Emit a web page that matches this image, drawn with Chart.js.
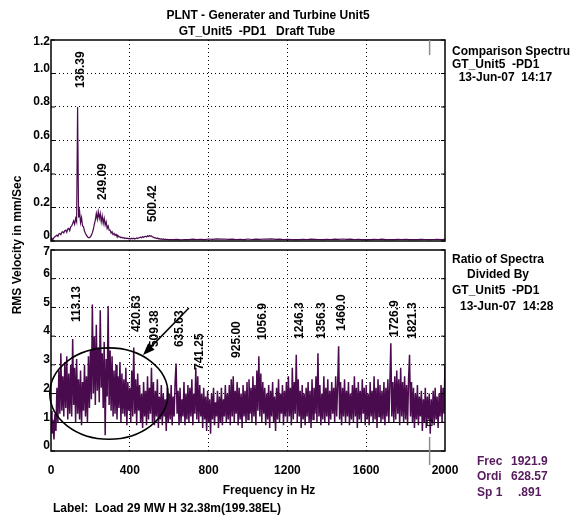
<!DOCTYPE html>
<html>
<head>
<meta charset="utf-8">
<script src="https://cdn.jsdelivr.net/npm/chart.js@4.4.0/dist/chart.umd.min.js"></script>
<style>
  body { margin: 0; background: #fff; }
  #wrap { position: relative; width: 575px; height: 518px; overflow: hidden; background: #fff;
          font-family: "Liberation Sans", Arial, sans-serif; font-weight: bold; font-size: 12px; color: #000; }
  canvas { position: absolute; left: 0; top: 0; }
  .t { position: absolute; white-space: pre; line-height: 14px; }
  .c { text-align: center; width: 300px; }
  .purple { color: #561b5c; }
</style>
</head>
<body>
<div id="wrap">
  <canvas id="spec_chart" width="575" height="518"></canvas>
  <canvas id="ratio_chart" width="575" height="518"></canvas>

  <div class="t c" style="left:118px; top:8px;">PLNT - Generater and Turbine Unit5</div>
  <div class="t c" style="left:107px; top:24px;">GT_Unit5  -PD1   Draft Tube</div>

  <div class="t" style="left:452px; top:44px;">Comparison Spectru</div>
  <div class="t" style="left:452px; top:57px;">GT_Unit5  -PD1</div>
  <div class="t" style="left:452px; top:70px;">  13-Jun-07  14:17</div>

  <div class="t" style="left:452px; top:252px;">Ratio of Spectra</div>
  <div class="t" style="left:467px; top:267px;">Divided By</div>
  <div class="t" style="left:452px; top:283px;">GT_Unit5  -PD1</div>
  <div class="t" style="left:460px; top:299px;">13-Jun-07  14:28</div>

  <div class="t" style="left:-63px; top:238px; width:160px; text-align:center; transform:rotate(-90deg);">RMS Velocity in mm/Sec</div>

  <div class="t c" style="left:119px; top:483px;">Frequency in Hz</div>
  <div class="t" style="left:53px; top:501px;">Label:  Load 29 MW H 32.38m(199.38EL)</div>

  <div class="t purple" style="left:477px; top:454px;">Frec</div>
  <div class="t purple" style="left:511px; top:454px;">1921.9</div>
  <div class="t purple" style="left:477px; top:469px;">Ordi</div>
  <div class="t purple" style="left:511px; top:469px;">628.57</div>
  <div class="t purple" style="left:477px; top:485px;">Sp 1</div>
  <div class="t purple" style="left:518px; top:485px;">.891</div>
</div>

<script>
// Tick values
const freqTicks = [0, 400, 800, 1200, 1600, 2000];
const specTicks = [0, 0.2, 0.4, 0.6, 0.8, 1.0, 1.2];
const specTickLabels = ['0', '0.2', '0.4', '0.6', '0.8', '1.0', '1.2'];
const ratioTicks = [0, 1, 2, 3, 4, 5, 6, 7];
const ratioTickLabels = ['0', '1', '2', '3', '4', '5', '6', '7'];

// Comparison spectrum (mm/Sec), 5 Hz lines up to 595 Hz, 20 Hz lines after
const specLow = [
    0.02, 0.005, 0.01, 0.02, 0.025, 0.03, 0.035, 0.028, 0.042, 0.045, 0.038, 0.052, 0.055, 0.048, 0.062, 0.065, 0.052, 0.072, 0.075, 0.062,
    0.085, 0.09, 0.105, 0.12, 0.1, 0.135, 0.115, 0.8, 0.14, 0.18, 0.11, 0.14, 0.09, 0.085, 0.06, 0.045, 0.035, 0.025, 0.02, 0.02,
    0.025, 0.035, 0.05, 0.07, 0.1, 0.125, 0.165, 0.13, 0.175, 0.135, 0.165, 0.115, 0.15, 0.105, 0.135, 0.095, 0.115, 0.075, 0.09, 0.065,
    0.065, 0.048, 0.055, 0.038, 0.045, 0.033, 0.04, 0.028, 0.032, 0.024, 0.026, 0.019, 0.022, 0.017, 0.02, 0.015, 0.018, 0.014, 0.017, 0.013,
    0.015, 0.012, 0.016, 0.013, 0.017, 0.012, 0.015, 0.018, 0.015, 0.019, 0.02, 0.023, 0.019, 0.026, 0.021, 0.027, 0.028, 0.024, 0.031, 0.027,
    0.033, 0.029, 0.03, 0.024, 0.023, 0.019, 0.019, 0.015, 0.018, 0.013, 0.014, 0.011, 0.013, 0.01, 0.012, 0.009, 0.011, 0.009, 0.01, 0.008
];
const specHigh = [
    0.009, 0.008, 0.01, 0.007, 0.009, 0.008, 0.011, 0.009, 0.01, 0.008,
    0.012, 0.01, 0.013, 0.011, 0.012, 0.01, 0.011, 0.009, 0.01, 0.008,
    0.012, 0.009, 0.011, 0.01, 0.012, 0.011, 0.013, 0.01, 0.011, 0.009,
    0.01, 0.008, 0.009, 0.008, 0.01, 0.009, 0.011, 0.01, 0.009, 0.008,
    0.01, 0.009, 0.011, 0.01, 0.012, 0.01, 0.011, 0.009, 0.01, 0.008,
    0.009, 0.008, 0.01, 0.009, 0.011, 0.008, 0.009, 0.008, 0.01, 0.009,
    0.01, 0.008, 0.009, 0.008, 0.01, 0.009, 0.008, 0.009, 0.01, 0.008,
    0.01
];

// Ratio of spectra, 5 Hz lines 0..2000 Hz
const ratioValues = [
    1.4, 0.6, 1.1, 0.4, 1.3, 0.7, 2.2, 1.0, 2.8, 1.3, 3.4, 1.4, 2.6, 1.2, 3.1, 1.5, 3.3, 1.1, 2.7, 1.3,
    3.0, 1.2, 3.9, 1.6, 2.9, 1.0, 3.2, 1.3, 2.5, 1.1, 2.8, 0.9, 2.4, 1.4, 3.0, 1.2, 2.6, 1.0, 3.3, 1.5,
    3.5, 1.8, 5.1, 2.0, 4.0, 1.6, 4.4, 2.1, 3.6, 1.7, 4.9, 2.2, 3.4, 1.5, 3.8, 0.55, 3.2, 1.9, 5.05, 1.6,
    3.5, 1.4, 3.3, 1.2, 2.8, 1.3, 3.0, 1.1, 2.6, 1.5, 3.1, 1.0, 2.7, 1.3, 2.5, 1.2, 2.9, 0.9, 2.4, 1.4,
    2.2, 1.0, 2.8, 1.2, 3.6, 1.3, 2.5, 0.9, 2.7, 1.4, 2.3, 1.0, 2.0, 0.8, 2.4, 1.2, 2.1, 0.9, 2.6, 1.1,
    2.2, 1.3, 2.9, 1.0, 2.4, 0.9, 2.1, 1.2, 2.5, 0.8, 1.9, 1.1, 2.3, 0.9, 2.0, 1.2, 1.8, 0.7, 2.2, 1.0,
    2.0, 1.1, 2.3, 0.9, 1.9, 1.2, 2.4, 3.05, 1.3, 2.1, 0.9, 2.2, 1.0, 1.8, 1.2, 2.4, 0.9, 2.0, 1.1, 2.3,
    1.0, 2.2, 1.2, 2.5, 0.9, 2.0, 1.3, 2.9, 1.1, 2.6, 1.0, 2.3, 1.2, 2.0, 0.8, 2.2, 1.1, 1.9, 0.7, 2.1,
    1.0, 1.8, 0.6, 2.0, 1.1, 2.2, 0.9, 1.7, 1.2, 2.1, 0.8, 1.9, 1.0, 2.2, 0.9, 1.8, 1.2, 2.3, 1.0, 2.0,
    1.1, 2.3, 0.9, 2.5, 1.2, 2.6, 1.0, 2.1, 1.3, 2.4, 0.9, 2.2, 1.1, 2.0, 0.8, 2.3, 1.2, 2.1, 1.0, 2.4,
    1.1, 2.5, 1.3, 2.2, 1.0, 2.6, 1.2, 2.3, 0.9, 2.8, 1.4, 3.3, 1.2, 2.7, 1.0, 2.4, 1.3, 2.2, 0.9, 2.0,
    1.1, 2.3, 0.8, 2.1, 1.2, 2.4, 1.0, 1.9, 0.7, 2.2, 1.1, 2.5, 1.0, 2.0, 1.3, 2.3, 0.9, 2.1, 1.2, 2.4,
    1.0, 2.6, 1.2, 2.2, 0.9, 2.9, 1.1, 2.4, 1.3, 3.35, 1.0, 2.5, 1.2, 2.1, 0.8, 2.3, 1.1, 2.0, 0.9, 2.2,
    1.2, 2.4, 1.0, 2.1, 0.8, 2.5, 1.1, 2.2, 1.3, 2.6, 1.0, 3.4, 1.2, 2.3, 0.9, 2.0, 1.1, 2.6, 1.0, 2.2,
    1.2, 2.5, 0.9, 2.1, 1.1, 2.4, 1.3, 2.2, 1.0, 2.6, 1.2, 2.3, 3.65, 1.1, 2.4, 0.9, 2.2, 1.2, 2.5, 1.0,
    2.1, 1.2, 2.4, 0.9, 2.0, 1.1, 2.3, 1.0, 2.6, 1.2, 2.2, 0.8, 2.4, 1.1, 2.1, 1.0, 2.5, 1.3, 2.2, 0.9,
    2.3, 1.1, 2.0, 0.9, 2.4, 1.2, 2.1, 1.0, 2.6, 1.1, 2.2, 0.8, 2.5, 1.2, 2.3, 1.0, 2.1, 1.1, 2.4, 0.9,
    2.2, 1.2, 2.5, 1.0, 2.3, 3.75, 1.2, 2.4, 1.0, 2.6, 1.1, 2.8, 1.3, 2.5, 0.9, 2.9, 1.2, 2.4, 1.0, 2.6,
    1.1, 2.3, 0.9, 2.5, 3.35, 1.2, 2.4, 1.0, 2.2, 0.8, 2.0, 1.1, 2.3, 0.9, 1.9, 1.2, 2.1, 0.7, 1.8, 1.0,
    2.2, 0.8, 1.9, 1.1, 2.0, 0.6, 1.8, 1.0, 2.1, 0.9, 2.2, 1.1, 1.9, 0.8, 2.0, 1.2, 2.3, 1.0, 2.2, 1.3,
    3.0
];

// Peak markers
const specPeakLabels = ['136.39', '249.09', '500.42'];
const specPeakLabelAt = [0.913, 0.245, 0.113];
const ratioPeakLabels = ['113.13', '420.63', '509.38', '635.63', '741.25', '925.00', '1056.9', '1246.3', '1356.3', '1460.0', '1726.9', '1821.3'];
const ratioPeakLabelAt = [4.49, 4.14, 3.62, 3.62, 2.82, 3.24, 3.87, 3.90, 3.90, 4.18, 3.97, 3.90];
const cursorFreq = 1921.9;

// frequency grid of each series
const specFreqs = specLow.map((v, i) => i * 5).concat(specHigh.map((v, i) => 600 + i * 20));
const specValues = specLow.concat(specHigh);
const ratioFreqs = ratioValues.map((v, i) => i * 5);

const lineColor = '#4a0a4e';
const font = 'bold 12px "Liberation Sans", Arial, sans-serif';

function drawFrame(chart, ticks, labels) {
    const ctx = chart.ctx;
    const a = chart.chartArea;
    const y = chart.scales.y;
    ctx.save();
    ctx.strokeStyle = '#000';
    ctx.lineWidth = 1.5;
    ctx.strokeRect(a.left, a.top, a.right - a.left, a.bottom - a.top);
    ctx.lineWidth = 1;
    ctx.fillStyle = '#000';
    ctx.font = font;
    ctx.textAlign = 'right';
    ctx.textBaseline = 'middle';
    ticks.forEach((v, i) => {
        const py = y.getPixelForValue(v);
        ctx.beginPath();
        ctx.moveTo(a.left, py); ctx.lineTo(a.left + 4, py);
        ctx.moveTo(a.right - 4, py); ctx.lineTo(a.right, py);
        ctx.stroke();
        const ly = (v === y.max) ? py + 2 : py - 5;
        ctx.fillText(labels[i], a.left - 1, ly);
    });
    ctx.restore();
}

function drawPeakLabels(chart, labels, at) {
    const ctx = chart.ctx;
    ctx.save();
    ctx.fillStyle = '#000';
    ctx.font = font;
    ctx.textAlign = 'left';
    ctx.textBaseline = 'middle';
    labels.forEach((txt, i) => {
        const px = chart.scales.x.getPixelForValue(parseFloat(txt)) + 3;
        const py = chart.scales.y.getPixelForValue(at[i]);
        ctx.save();
        ctx.translate(px, py);
        ctx.rotate(-Math.PI / 2);
        ctx.fillText(txt, 0, 0);
        ctx.restore();
    });
    ctx.restore();
}

function drawCursor(chart, fromVal, extraBelow) {
    const ctx = chart.ctx;
    const a = chart.chartArea;
    const px = chart.scales.x.getPixelForValue(cursorFreq);
    ctx.save();
    ctx.strokeStyle = '#8c8c8c';
    ctx.lineWidth = 1.5;
    ctx.beginPath();
    if (extraBelow) {
        ctx.moveTo(px, chart.scales.y.getPixelForValue(fromVal));
        ctx.lineTo(px, a.bottom + extraBelow);
    } else {
        ctx.moveTo(px, a.top);
        ctx.lineTo(px, chart.scales.y.getPixelForValue(fromVal));
    }
    ctx.stroke();
    ctx.restore();
}

const specDecor = {
    id: 'specDecor',
    afterDraw(chart) {
        drawFrame(chart, specTicks, specTickLabels);
        drawPeakLabels(chart, specPeakLabels, specPeakLabelAt);
        drawCursor(chart, 1.11, 0);
    }
};

const ratioDecor = {
    id: 'ratioDecor',
    afterDraw(chart) {
        const ctx = chart.ctx;
        const x = chart.scales.x;
        const y = chart.scales.y;
        const a = chart.chartArea;
        drawFrame(chart, ratioTicks, ratioTickLabels);
        drawPeakLabels(chart, ratioPeakLabels, ratioPeakLabelAt);
        drawCursor(chart, 0.49, 14);

        ctx.save();
        // cursor marker
        ctx.strokeStyle = '#000';
        ctx.lineWidth = 1;
        const cx = x.getPixelForValue(cursorFreq), cy = y.getPixelForValue(0.98);
        ctx.strokeRect(cx - 2.5, cy - 2.5, 5, 5);

        // circled region
        ctx.lineWidth = 1.6;
        const ex = x.getPixelForValue(294), ey = y.getPixelForValue(2.0);
        const rx = x.getPixelForValue(594) - ex, ry = ey - y.getPixelForValue(3.59);
        ctx.beginPath();
        ctx.ellipse(ex, ey, rx, ry, 0, 0, Math.PI * 2);
        ctx.stroke();

        // arrow
        const x1 = x.getPixelForValue(700), y1 = y.getPixelForValue(4.98);
        const x2 = x.getPixelForValue(467), y2 = y.getPixelForValue(3.34);
        const ang = Math.atan2(y2 - y1, x2 - x1);
        ctx.lineWidth = 1.5;
        ctx.beginPath();
        ctx.moveTo(x1, y1);
        ctx.lineTo(x2 - 8 * Math.cos(ang), y2 - 8 * Math.sin(ang));
        ctx.stroke();
        ctx.fillStyle = '#000';
        ctx.beginPath();
        ctx.moveTo(x2, y2);
        ctx.lineTo(x2 - 12 * Math.cos(ang) + 4.5 * Math.sin(ang), y2 - 12 * Math.sin(ang) - 4.5 * Math.cos(ang));
        ctx.lineTo(x2 - 12 * Math.cos(ang) - 4.5 * Math.sin(ang), y2 - 12 * Math.sin(ang) + 4.5 * Math.cos(ang));
        ctx.closePath();
        ctx.fill();

        // x tick labels
        ctx.font = font;
        ctx.textAlign = 'center';
        ctx.textBaseline = 'middle';
        freqTicks.forEach(v => {
            ctx.fillText(String(v), x.getPixelForValue(v), a.bottom + 20);
        });
        ctx.restore();
    }
};

function makeChart(id, freqs, values, yMax, yTicks, padding, decor, lineWidth) {
    const chart_ctx = document.getElementById(id).getContext('2d');
    return new Chart(chart_ctx, {
        type: 'line',
        data: {
            datasets: [{
                data: freqs.map((f, i) => ({ x: f, y: values[i] })),
                borderColor: lineColor,
                borderWidth: lineWidth,
                pointRadius: 0,
                tension: 0,
                fill: false
            }]
        },
        options: {
            responsive: false,
            animation: false,
            events: [],
            layout: { padding: padding },
            plugins: {
                legend: { display: false },
                tooltip: { enabled: false }
            },
            scales: {
                x: {
                    type: 'linear',
                    min: 0,
                    max: 2000,
                    afterBuildTicks: s => { s.ticks = freqTicks.map(v => ({ value: v })); },
                    afterFit: s => { s.height = 0; },
                    ticks: { display: false },
                    grid: {
                        drawTicks: false,
                        lineWidth: 1,
                        color: c => (c.tick && (c.tick.value === 0 || c.tick.value === 2000)) ? 'rgba(0,0,0,0)' : '#000'
                    },
                    border: { display: false, dash: [1, 3] }
                },
                y: {
                    min: 0,
                    max: yMax,
                    afterBuildTicks: s => { s.ticks = yTicks.map(v => ({ value: v })); },
                    afterFit: s => { s.width = 0; },
                    ticks: { display: false },
                    grid: {
                        drawTicks: false,
                        lineWidth: 1,
                        color: c => (c.tick && (c.tick.value === 0 || c.tick.value === yMax)) ? 'rgba(0,0,0,0)' : '#000'
                    },
                    border: { display: false, dash: c => (c.tick && c.tick.value === 1 && yMax === 7) ? [] : [1, 3] }
                }
            }
        },
        plugins: [decor]
    });
}

const spec_chart = makeChart('spec_chart', specFreqs, specValues, 1.2, specTicks,
    { left: 51, top: 40, right: 130, bottom: 277 }, specDecor, 1.2);
const ratio_chart = makeChart('ratio_chart', ratioFreqs, ratioValues, 7, ratioTicks,
    { left: 51, top: 250, right: 130, bottom: 67 }, ratioDecor, 1.5);
</script>
</body>
</html>
